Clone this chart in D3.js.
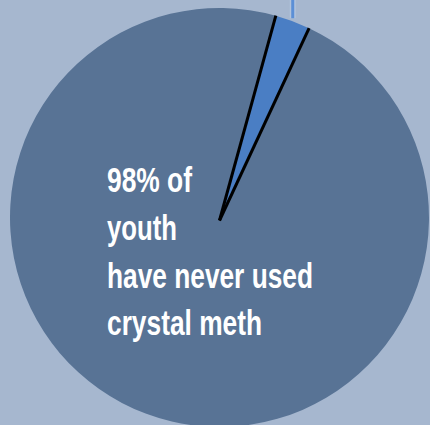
<!DOCTYPE html>
<html>
<head>
<meta charset="utf-8">
<script src="https://cdn.jsdelivr.net/npm/d3@7"></script>
<style>
html,body{margin:0;padding:0;background:#a6b7cf;}
svg{display:block;}
</style>
</head>
<body>
<svg id="chart" width="430" height="425"></svg>
<script>
const categories = ["Never used crystal meth", "Used crystal meth"];
const values = [97.3, 2.7];
const labelLines = ["98% of", "youth", "have never used", "crystal meth"];

const W = 430, H = 425;
const cx = 219.5, cy = 217.5, R = 209.5;
const svg = d3.select("#chart");
svg.append("rect").attr("width", W).attr("height", H).attr("fill", "#a6b7cf");

const colors = d3.scaleOrdinal().domain(categories).range(["#587395", "#4a7ec4"]);
const deg = Math.PI / 180;
const startA = 15.6 * deg;
const pie = d3.pie().sort(null).value(d => d.v)
  .startAngle(startA - 2 * Math.PI * values[0] / 100)
  .endAngle(startA + 2 * Math.PI * values[1] / 100);
const data = categories.map((c, i) => ({c, v: values[i]}));
const arcs = pie(data);
const arc = d3.arc().innerRadius(0).outerRadius(R);

const g = svg.append("g").attr("transform", `translate(${cx},${cy})`);
g.selectAll("path.slice").data(arcs).join("path")
  .attr("class", "slice")
  .attr("d", arc)
  .attr("fill", d => colors(d.data.c));

const small = arcs[1];
const pt = (a, r) => [r * Math.sin(a), -r * Math.cos(a)];
[small.startAngle, small.endAngle].forEach(a => {
  const p = pt(a, R);
  g.append("line").attr("x1", 0).attr("y1", 3).attr("x2", p[0]).attr("y2", p[1])
    .attr("stroke", "#000").attr("stroke-width", 3).attr("stroke-linecap", "butt");
});

const mid = (small.startAngle + small.endAngle) / 2;
const pm = pt(mid, R);
g.append("line").attr("x1", pm[0]).attr("y1", pm[1] - 3).attr("x2", pm[0]).attr("y2", -cy - 5)
  .attr("stroke", "#b9cbe6").attr("stroke-width", 6).attr("opacity", 0.6);
g.append("line").attr("x1", pm[0]).attr("y1", pm[1] - 3).attr("x2", pm[0]).attr("y2", -cy - 5)
  .attr("stroke", "#5b8fd6").attr("stroke-width", 3);

const baselines = [192, 240, 288, 335];
const widths = [85, 70, 206, 155];
svg.append("g").selectAll("text").data(labelLines).join("text")
  .attr("x", 107).attr("y", (d, i) => baselines[i])
  .attr("fill", "#ffffff")
  .attr("font-family", "'Liberation Sans',Arial,sans-serif")
  .attr("font-weight", "bold")
  .attr("font-size", 35)
  .attr("textLength", (d, i) => widths[i])
  .attr("lengthAdjust", "spacingAndGlyphs")
  .text(d => d);
</script>
</body>
</html>
